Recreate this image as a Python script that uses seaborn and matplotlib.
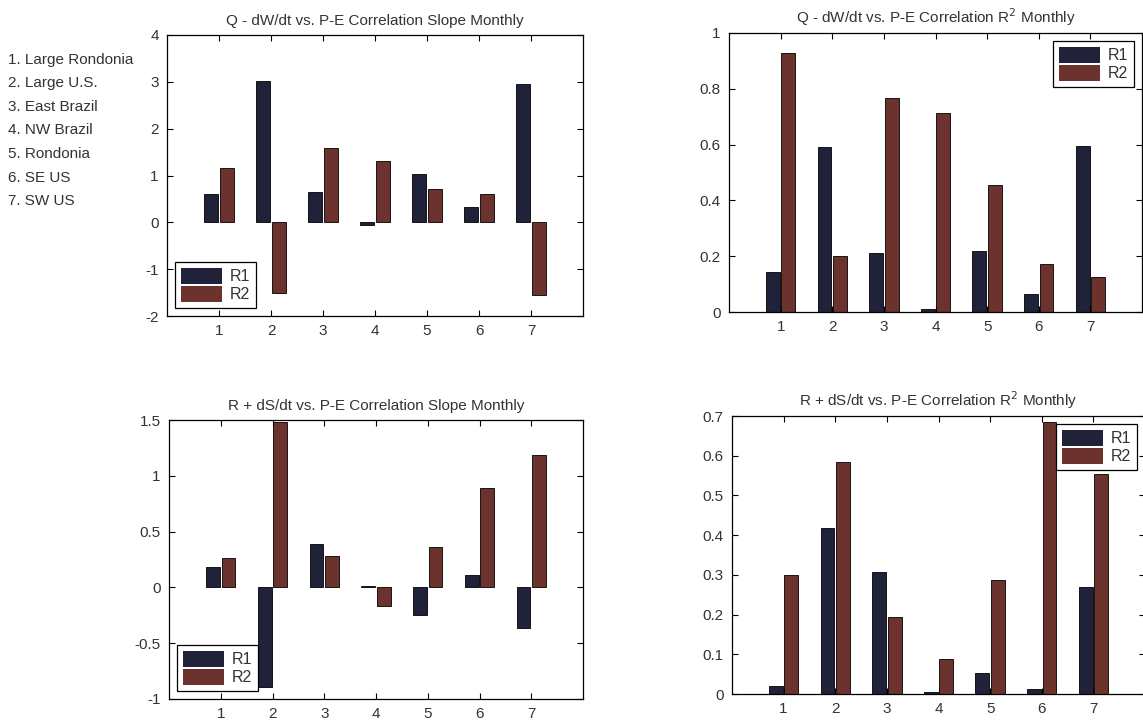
import numpy as np
import pandas as pd
import matplotlib
matplotlib.use("Agg")
import matplotlib.pyplot as plt
import seaborn as sns

regions = [1, 2, 3, 4, 5, 6, 7]
region_names = ["1. Large Rondonia", "2. Large U.S.", "3. East Brazil", "4. NW Brazil",
                "5. Rondonia", "6. SE US", "7. SW US"]
series = ["R1", "R2"]

q_slope_r1 = [0.60, 3.02, 0.65, -0.05, 1.03, 0.32, 2.96]
q_slope_r2 = [1.16, -1.50, 1.59, 1.31, 0.71, 0.60, -1.56]
q_r2_r1 = [0.143, 0.590, 0.210, 0.012, 0.218, 0.064, 0.594]
q_r2_r2 = [0.928, 0.200, 0.768, 0.713, 0.455, 0.172, 0.125]
r_slope_r1 = [0.18, -0.89, 0.385, 0.015, -0.25, 0.11, -0.36]
r_slope_r2 = [0.26, 1.48, 0.28, -0.17, 0.36, 0.89, 1.19]
r_r2_r1 = [0.020, 0.417, 0.308, 0.004, 0.053, 0.012, 0.270]
r_r2_r2 = [0.300, 0.583, 0.193, 0.089, 0.288, 0.684, 0.555]

titles = ["Q - dW/dt vs. P-E Correlation Slope Monthly",
          "Q - dW/dt vs. P-E Correlation R$^2$ Monthly",
          "R + dS/dt vs. P-E Correlation Slope Monthly",
          "R + dS/dt vs. P-E Correlation R$^2$ Monthly"]

sns.set_theme(style="white")
plt.rcParams['font.family'] = ['Liberation Sans', 'DejaVu Sans']
plt.rcParams['text.color'] = '#333333'

colors = {"R1": "#1c1e3e", "R2": "#772922"}
W, H = 1143, 721
fig = plt.figure(figsize=(W / 100, H / 100), dpi=100)

def rect(l, r, t, b):
    return [l / W, 1 - b / H, (r - l) / W, (b - t) / H]

panels = [
    (rect(167, 583, 35, 316), q_slope_r1, q_slope_r2, (-2, 4), np.arange(-2, 4.01, 1), "lower left"),
    (rect(729, 1142, 33, 312), q_r2_r1, q_r2_r2, (0, 1), np.arange(0, 1.01, 0.2), "upper right"),
    (rect(169, 583, 420, 699), r_slope_r1, r_slope_r2, (-1, 1.5), np.arange(-1, 1.51, 0.5), "lower left"),
    (rect(732, 1145, 416, 694), r_r2_r1, r_r2_r2, (0, 0.7), np.arange(0, 0.701, 0.1), "upper right"),
]

for (pos, v1, v2, ylim, yt, legloc), title in zip(panels, titles):
    ax = fig.add_axes(pos)
    df = pd.DataFrame({
        "region": regions * 2,
        "value": v1 + v2,
        "series": ["R1"] * 7 + ["R2"] * 7,
    })
    sns.barplot(data=df, x="region", y="value", hue="series", palette=colors,
                native_scale=True, width=0.6, gap=0.1, ax=ax,
                edgecolor="black", linewidth=0.6, errorbar=None)
    ax.set_xlim(0, 8)
    ax.set_ylim(*ylim)
    ax.set_xticks(regions)
    ax.set_yticks(yt)
    ax.set_yticklabels([f"{round(v, 2):g}" for v in yt])
    ax.set_xlabel("")
    ax.set_ylabel("")
    ax.set_title(title, fontsize=11, color="#333333", pad=7)
    ax.tick_params(direction="in", length=4, width=0.8, top=True, right=True,
                   bottom=True, left=True, labelsize=11, colors="black",
                   labelcolor="#333333", pad=6)
    for s in ax.spines.values():
        s.set_color("black")
        s.set_linewidth(0.9)
    leg = ax.legend(loc=legloc, fontsize=11.5, frameon=True, fancybox=False,
                    edgecolor="black", framealpha=1, handlelength=2.6,
                    handleheight=1.2, borderpad=0.35, labelspacing=0.1,
                    handletextpad=0.5, borderaxespad=0.5)
    leg.get_frame().set_linewidth(0.9)
    for h in leg.legend_handles:
        h.set_edgecolor("none")

for i, name in enumerate(region_names):
    fig.text(8 / W, 1 - (60 + i * 23.5) / H, name, fontsize=11, color="#333333",
             va="center", ha="left")

fig.savefig("out.png", dpi=100)
